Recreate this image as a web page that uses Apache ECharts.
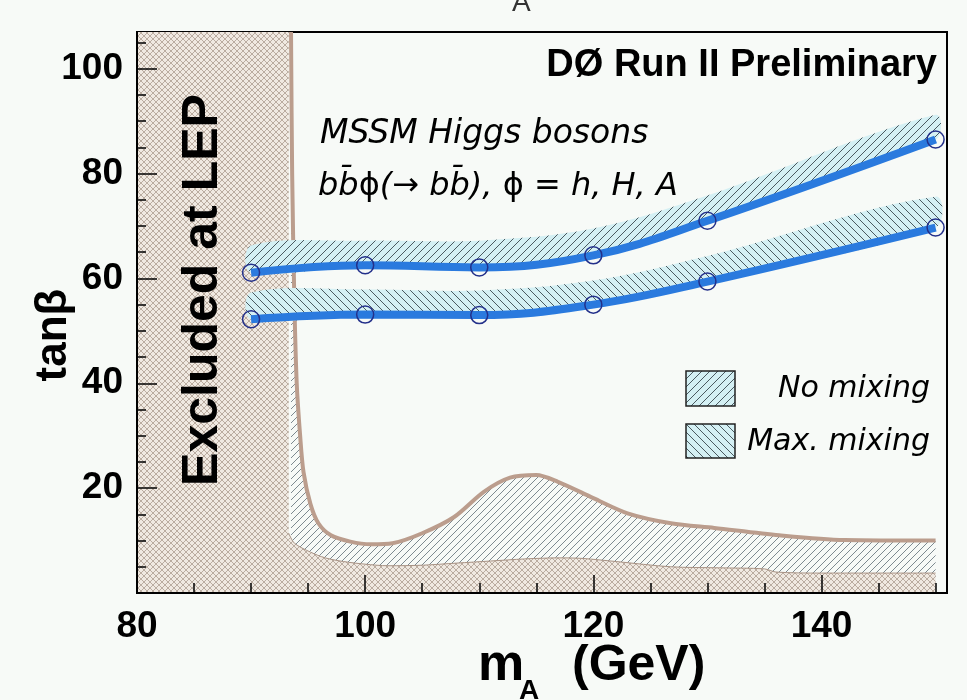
<!DOCTYPE html>
<html>
<head>
<meta charset="utf-8">
<script src="https://cdn.jsdelivr.net/npm/echarts@6/dist/echarts.min.js"></script>
<style>
  html, body { margin: 0; padding: 0; background: #f7faf7; }
  #chart { width: 967px; height: 700px; }
</style>
</head>
<body>
<div id="chart"></div>
<script>
// fitted mass points (GeV)
const massPoints = [90, 100, 110, 120, 130, 150];
// 95% CL limits on tan(beta)
const noMixLimit = [61.1, 62.5, 62.1, 64.4, 71.0, 86.5];
const noMixBandTop = [66.3, 67.2, 67.2, 69.5, 75.8, 91.2];
const maxMixLimit = [52.2, 53.1, 53.0, 55.0, 59.4, 69.7];
const maxMixBandTop = [57.3, 57.9, 57.7, 59.6, 64.3, 75.6];

// LEP excluded contour (brown line)
const lepContourMass = [93.5, 93.6, 93.8, 94.0, 94.3, 94.6, 95.2, 95.9, 97.0, 98.7, 100.5, 102.4, 105.0,
  107.8, 110.4, 112.7, 115.0, 116.9, 120.0, 123.0, 126.8, 130.6, 136.3, 142.0, 150.0];
const lepContourTanb = [107, 80, 55, 40, 30, 23, 17, 13.3, 11.0, 9.8, 9.3, 9.5, 11.4,
  14.5, 19.3, 22.0, 22.5, 21.2, 18.1, 15.2, 13.3, 12.4, 11.0, 10.1, 10.0];

// low tan(beta) LEP band
const lowBandMass = [93.3, 93.8, 95.2, 96.5, 98.1, 100, 102, 105, 108, 111, 114, 117, 119, 122, 126.8, 131, 135, 136, 140, 150];
const lowBandTanb = [11.4, 9.5, 7.8, 6.7, 6.0, 5.5, 5.2, 5.3, 5.7, 6.1, 6.5, 6.7, 6.6, 6.0, 5.0, 4.8, 4.6, 4.0, 3.8, 3.8];

// LEP direct search region
const lepBoxMass = [80, 93.3];
const lepBoxTanb = [107, 107];

// axes
const xTickLabels = [80, 100, 120, 140];
const xMinorTicks = [85, 90, 95, 105, 110, 115, 125, 130, 135, 145, 150];
const yTickLabels = [20, 40, 60, 80, 100];
const yMinorTicks = [5, 10, 15, 25, 30, 35, 45, 50, 55, 65, 70, 75, 85, 90, 95, 105];

const zip = (xs, ys) => xs.map((x, i) => [x, ys[i]]);

// small canvas tiles for the hatch fills
function hatch(size, bg, fg, dirs, lw) {
  const c = document.createElement('canvas');
  c.width = c.height = size;
  const g = c.getContext('2d');
  if (bg) { g.fillStyle = bg; g.fillRect(0, 0, size, size); }
  g.strokeStyle = fg;
  g.lineWidth = lw;
  g.beginPath();
  if (dirs.includes('/')) {
    g.moveTo(0, size); g.lineTo(size, 0);
    g.moveTo(-1, 1); g.lineTo(1, -1);
    g.moveTo(size - 1, size + 1); g.lineTo(size + 1, size - 1);
  }
  if (dirs.includes('\\')) {
    g.moveTo(0, 0); g.lineTo(size, size);
    g.moveTo(-1, size - 1); g.lineTo(1, size + 1);
    g.moveTo(size - 1, -1); g.lineTo(size + 1, 1);
  }
  g.stroke();
  return { image: c, repeat: 'repeat' };
}

const crossFill = hatch(6, '#f0e9e1', '#b3a598', '/\\', 0.9);
const contourFill = hatch(7, null, '#7d8a90', '/', 1);
const noMixFill = hatch(8, '#d4f0f4', '#4a5a60', '/', 1);
const maxMixFill = hatch(8, '#d4f0f4', '#4a5a60', '\\', 1);

function bandSeries(name, lower, upper, fill) {
  return {
    type: 'custom', name: name, z: 4, silent: true, clip: true,
    data: [[massPoints[0], lower[0]]],
    renderItem: (params, api) => {
      const top = massPoints.map((m, i) => api.coord([m, upper[i]]));
      const bottom = massPoints.map((m, i) => api.coord([m, lower[i]])).reverse();
      return {
        type: 'polygon',
        shape: { points: top.concat(bottom), smooth: 0.35 },
        style: { fill: fill, stroke: null }
      };
    }
  };
}

function limitLine(name, values) {
  return {
    type: 'line', name: name, z: 5, smooth: 0.4,
    data: zip(massPoints, values),
    symbol: 'circle', symbolSize: 17,
    lineStyle: { color: '#2a7ade', width: 8 },
    itemStyle: { color: 'rgba(0,0,0,0)', borderColor: '#23308a', borderWidth: 1.5 }
  };
}

const tickStyle = { color: '#000', width: 1.5 };
const labelFont = { fontSize: 37, fontWeight: 'bold', fontFamily: 'Liberation Sans', color: '#000' };
const italic = { fontFamily: 'DejaVu Sans', fontStyle: 'italic', fontSize: 30 };

const chart = echarts.init(document.getElementById('chart'));

chart.setOption({
  backgroundColor: '#f7faf7',
  animation: false,
  grid: { left: 137, right: 20, top: 32, bottom: 107, show: true, borderColor: '#000', borderWidth: 2, backgroundColor: 'transparent' },
  xAxis: [
    {
      type: 'value', min: 80, max: 151, position: 'bottom', z: 10,
      axisLine: { show: true, onZero: false, lineStyle: { color: '#000', width: 2 } },
      axisTick: { show: true, inside: true, length: 18, lineStyle: tickStyle, customValues: xTickLabels },
      axisLabel: Object.assign({ customValues: xTickLabels, margin: 15 }, labelFont),
      splitLine: { show: false }
    },
    {
      type: 'value', min: 80, max: 151, position: 'bottom', z: 10,
      axisLine: { show: false },
      axisTick: { show: true, inside: true, length: 10, lineStyle: tickStyle, customValues: xMinorTicks },
      axisLabel: { show: false },
      splitLine: { show: false }
    }
  ],
  yAxis: [
    {
      type: 'value', min: 0, max: 107, position: 'left', z: 10,
      axisLine: { show: true, onZero: false, lineStyle: { color: '#000', width: 2 } },
      axisTick: { show: true, inside: true, length: 20, lineStyle: tickStyle, customValues: yTickLabels },
      axisLabel: Object.assign({ customValues: yTickLabels, margin: 14 }, labelFont),
      splitLine: { show: false }
    },
    {
      type: 'value', min: 0, max: 107, position: 'left', z: 10,
      axisLine: { show: false },
      axisTick: { show: true, inside: true, length: 9, lineStyle: tickStyle, customValues: yMinorTicks },
      axisLabel: { show: false },
      splitLine: { show: false }
    }
  ],
  series: [
    {
      type: 'line', name: 'contourFill', z: 1, smooth: 0.3, silent: true,
      data: zip(lepContourMass, lepContourTanb), showSymbol: false,
      lineStyle: { width: 0 },
      areaStyle: { color: contourFill, origin: 'start', opacity: 1 }
    },
    {
      type: 'line', name: 'lowBand', z: 2, smooth: 0.3, silent: true,
      data: zip(lowBandMass, lowBandTanb), showSymbol: false,
      lineStyle: { width: 1, color: '#a89284' },
      areaStyle: { color: crossFill, origin: 'start', opacity: 1 }
    },
    {
      type: 'line', name: 'lepBox', z: 2, silent: true,
      data: zip(lepBoxMass, lepBoxTanb), showSymbol: false,
      lineStyle: { width: 0 },
      areaStyle: { color: crossFill, origin: 'start', opacity: 1 }
    },
    {
      type: 'line', name: 'contourLine', z: 3, smooth: 0.3, silent: true,
      data: zip(lepContourMass, lepContourTanb), showSymbol: false,
      lineStyle: { width: 4, color: '#bb9d8d' }
    },
    bandSeries('No mixing band', noMixLimit, noMixBandTop, noMixFill),
    bandSeries('Max. mixing band', maxMixLimit, maxMixBandTop, maxMixFill),
    limitLine('No mixing', noMixLimit),
    limitLine('Max. mixing', maxMixLimit)
  ],
  graphic: [
    { type: 'text', x: 937, y: 66, z: 100,
      style: { text: 'DØ Run II Preliminary', fontSize: 38, fontWeight: 'bold', fontFamily: 'Liberation Sans', fill: '#000', align: 'right', verticalAlign: 'middle' } },
    { type: 'text', x: 320, y: 134, z: 100,
      style: Object.assign({ text: 'MSSM Higgs bosons', fill: '#000', align: 'left', verticalAlign: 'middle' }, italic, { fontSize: 33 }) },
    { type: 'text', x: 318, y: 187, z: 100,
      style: {
        text: '{i|bb\u0304}{u|ϕ}{i|(}{u|→ }{i|bb\u0304), }{u|ϕ}{i| = h, H, A}',
        fill: '#000', align: 'left', verticalAlign: 'middle',
        rich: {
          i: Object.assign({}, italic, { fontSize: 32 }),
          u: { fontFamily: 'DejaVu Sans', fontSize: 32 }
        }
      } },
    { type: 'text', x: 203, y: 290, z: 100, rotation: Math.PI / 2,
      style: { text: 'Excluded at LEP', fontSize: 50, fontWeight: 'bold', fontFamily: 'Liberation Sans', fill: '#000', align: 'center', verticalAlign: 'middle' } },
    { type: 'text', x: 54, y: 335, z: 100, rotation: Math.PI / 2,
      style: { text: 'tanβ', fontSize: 44, fontWeight: 'bold', fontFamily: 'Liberation Sans', fill: '#000', align: 'center', verticalAlign: 'middle' } },
    { type: 'text', x: 478, y: 666, z: 100,
      style: { text: 'm', fontSize: 52, fontWeight: 'bold', fontFamily: 'Liberation Sans', fill: '#000', align: 'left', verticalAlign: 'middle' } },
    { type: 'text', x: 519, y: 677, z: 100,
      style: { text: 'A', fontSize: 28, fontWeight: 'bold', fontFamily: 'Liberation Sans', fill: '#000', align: 'left', verticalAlign: 'top' } },
    { type: 'text', x: 572, y: 666, z: 100,
      style: { text: '(GeV)', fontSize: 50, fontWeight: 'bold', fontFamily: 'Liberation Sans', fill: '#000', align: 'left', verticalAlign: 'middle' } },
    { type: 'text', x: 512, y: 3, z: 100,
      style: { text: 'A', fontSize: 28, fontFamily: 'Liberation Sans', fill: '#333', align: 'left', verticalAlign: 'middle' } },
    // legend
    { type: 'rect', x: 686, y: 371, z: 100,
      shape: { width: 49, height: 35 }, style: { fill: noMixFill, stroke: '#222', lineWidth: 1.5 } },
    { type: 'rect', x: 686, y: 424, z: 100,
      shape: { width: 49, height: 34 }, style: { fill: maxMixFill, stroke: '#222', lineWidth: 1.5 } },
    { type: 'text', x: 930, y: 389, z: 100,
      style: Object.assign({ text: 'No mixing', fill: '#000', align: 'right', verticalAlign: 'middle' }, italic) },
    { type: 'text', x: 930, y: 442, z: 100,
      style: Object.assign({ text: 'Max. mixing', fill: '#000', align: 'right', verticalAlign: 'middle' }, italic) }
  ]
});
</script>
</body>
</html>
